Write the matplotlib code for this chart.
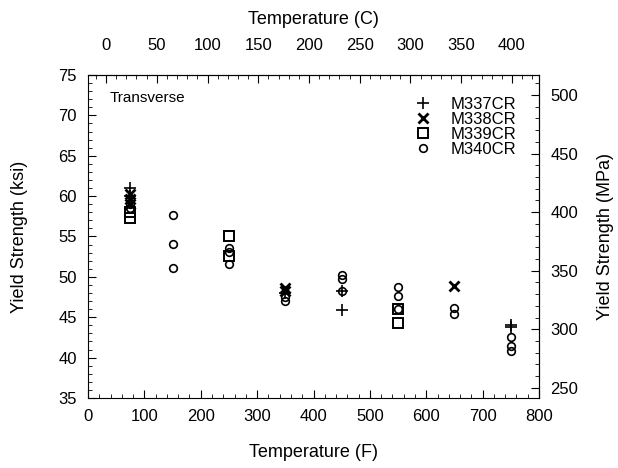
#!/usr/bin/python3
# -*- coding: utf-8 -*-

'''
Transverse yield strength vs temperature
'''

import matplotlib
matplotlib.use('Agg')
import matplotlib.pyplot as plt
from matplotlib.ticker import MultipleLocator

plt.rcParams['font.family'] = ['Liberation Sans', 'DejaVu Sans']

KSI_TO_MPA = 6.894757

# Test temperatures (F) and yield strength (ksi), one pair of lists per heat
m337_temp = [75, 75, 350, 450, 450, 750, 750]
m337_ys = [61.0, 60.0, 48.0, 48.2, 45.9, 44.0, 43.8]

m338_temp = [75, 75, 75, 350, 350, 650]
m338_ys = [60.2, 59.6, 59.0, 48.6, 48.2, 48.9]

m339_temp = [75, 75, 250, 250, 550, 550]
m339_ys = [58.0, 57.3, 55.1, 52.6, 46.0, 44.3]

m340_temp = [75, 75, 150, 150, 150, 250, 250, 250, 350, 350,
             450, 450, 450, 550, 550, 550, 650, 650, 750, 750, 750]
m340_ys = [59.0, 58.5, 57.7, 54.1, 51.1, 53.6, 53.1, 51.6, 47.5, 47.0,
           50.2, 49.7, 48.2, 48.7, 47.6, 46.0, 46.1, 45.4, 42.6, 41.4, 40.8]

series = [
    ('M337CR', m337_temp, m337_ys, dict(marker='+', ms=8, mew=1.2, color='k')),
    ('M338CR', m338_temp, m338_ys, dict(marker='x', ms=6.5, mew=2.0, color='k')),
    ('M339CR', m339_temp, m339_ys, dict(marker='s', ms=6.5, mew=1.4, mfc='none', color='k')),
    ('M340CR', m340_temp, m340_ys, dict(marker='o', ms=5.5, mew=1.2, mfc='none', color='k')),
]


def style_ticks(axis, pad=8):
    axis.tick_params(which='both', direction='in', labelsize=12, pad=pad)
    axis.tick_params(which='major', length=6)
    axis.tick_params(which='minor', length=3)


def main():
    fig = plt.figure(figsize=(6.18, 4.68), dpi=100)
    ax = fig.add_axes([0.1424, 0.1496, 0.7298, 0.6902])

    for name, temp, ys, style in series:
        ax.plot(temp, ys, linestyle='none', label=name, **style)

    ax.set_xlim(0, 800)
    ax.set_ylim(35, 75)
    ax.xaxis.set_major_locator(MultipleLocator(100))
    ax.xaxis.set_minor_locator(MultipleLocator(20))
    ax.yaxis.set_major_locator(MultipleLocator(5))
    ax.yaxis.set_minor_locator(MultipleLocator(1))
    style_ticks(ax)
    ax.set_xlabel('Temperature (F)', fontsize=13, labelpad=14)
    ax.set_ylabel('Yield Strength (ksi)', fontsize=13, labelpad=22)

    # Celsius on top
    top = ax.secondary_xaxis('top', functions=(lambda f: (f - 32) / 1.8,
                                               lambda c: c * 1.8 + 32))
    top.xaxis.set_major_locator(MultipleLocator(50))
    top.xaxis.set_minor_locator(MultipleLocator(10))
    style_ticks(top, pad=16)
    top.set_xlabel('Temperature (C)', fontsize=13, labelpad=10)

    # MPa on the right
    right = ax.secondary_yaxis('right', functions=(lambda k: k * KSI_TO_MPA,
                                                   lambda m: m / KSI_TO_MPA))
    right.yaxis.set_major_locator(MultipleLocator(50))
    right.yaxis.set_minor_locator(MultipleLocator(10))
    style_ticks(right)
    right.set_ylabel('Yield Strength (MPa)', fontsize=13, labelpad=14)

    ax.text(0.049, 0.929, 'Transverse', transform=ax.transAxes, fontsize=11,
            va='center')
    ax.legend(loc='upper right', bbox_to_anchor=(0.976, 0.967), frameon=False,
              fontsize=12, handlelength=1.0, handletextpad=1.18,
              labelspacing=0.0, borderpad=0.2)

    fig.savefig('out.png', dpi=100)


if __name__ == '__main__':
    main()
